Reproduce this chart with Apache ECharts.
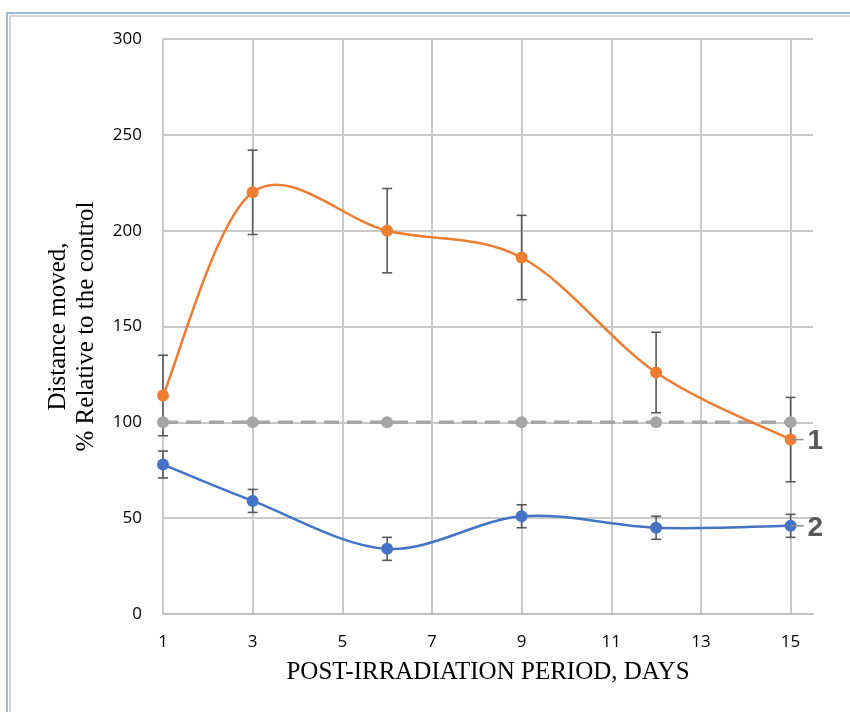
<!DOCTYPE html>
<html><head><meta charset="utf-8">
<script src="https://cdn.jsdelivr.net/npm/echarts@6/dist/echarts.min.js"></script>
<style>html,body{margin:0;padding:0;background:#fff}#c{width:850px;height:712px}</style>
</head><body><div id="c"></div>
<script>
const days = [1, 3, 6, 9, 12, 15];
const series1 = [114, 220, 200, 186, 126, 91];
const err1 = [21, 22, 22, 22, 21, 22];
const series2 = [78, 59, 34, 51, 45, 46];
const err2 = [7, 6, 6, 6, 6, 6];
const control = [100, 100, 100, 100, 100, 100];
const xTicks = [1, 3, 5, 7, 9, 11, 13, 15];
const yTicks = [0, 50, 100, 150, 200, 250, 300];
const endLabels = ['1', '2'];
const xTitle = 'POST-IRRADIATION PERIOD, DAYS';
const yTitle = 'Distance moved,\n% Relative to the control';

const pts = (vals) => days.map((d, i) => [d, vals[i]]);
const errData = (vals, errs) => days.map((d, i) => [d, vals[i] - errs[i], vals[i] + errs[i]]);

function errRender(params, api) {
  const x = api.value(0), lo = api.value(1), hi = api.value(2);
  const a = api.coord([x, hi]), b = api.coord([x, lo]);
  const w = 5, st = {stroke: '#595959', lineWidth: 1.6};
  return {type: 'group', children: [
    {type: 'line', shape: {x1: a[0], y1: a[1], x2: b[0], y2: b[1]}, style: st},
    {type: 'line', shape: {x1: a[0] - w, y1: a[1], x2: a[0] + w, y2: a[1]}, style: st},
    {type: 'line', shape: {x1: b[0] - w, y1: b[1], x2: b[0] + w, y2: b[1]}, style: st}
  ]};
}
// Excel-style smoothed segment (Catmull-Rom through the data points, in pixel space)
function curveRender(vals, color) {
  return function (params, api) {
    const i = params.dataIndex, n = days.length;
    if (i >= n - 1) return null;
    const c = (k) => api.coord([days[Math.max(0, Math.min(n - 1, k))], vals[Math.max(0, Math.min(n - 1, k))]]);
    const p0 = c(i - 1), p1 = c(i), p2 = c(i + 1), p3 = c(i + 2);
    return {type: 'bezierCurve', shape: {
      x1: p1[0], y1: p1[1], x2: p2[0], y2: p2[1],
      cpx1: p1[0] + (p2[0] - p0[0]) / 6, cpy1: p1[1] + (p2[1] - p0[1]) / 6,
      cpx2: p2[0] - (p3[0] - p1[0]) / 6, cpy2: p2[1] - (p3[1] - p1[1]) / 6
    }, style: {stroke: color, lineWidth: 2.5, fill: null}};
  };
}
function labRender(params, api) {
  const p = api.coord([api.value(0), api.value(1)]);
  const t = endLabels[params.dataIndex];
  return {type: 'group', children: [
    {type: 'line', shape: {x1: p[0], y1: p[1], x2: p[0] + 13, y2: p[1]}, style: {stroke: '#8c8c8c', lineWidth: 1.5}},
    {type: 'text', x: p[0] + 17, y: p[1] + 2, style: {text: t, fill: '#595959', font: 'bold 28px "Liberation Sans", sans-serif', verticalAlign: 'middle', align: 'left'}}
  ]};
}

const chart = echarts.init(document.getElementById('c'));
chart.setOption({
  animation: false,
  backgroundColor: '#fff',
  graphic: [
    {type: 'rect', shape: {x: 7, y: 13, width: 900, height: 800}, style: {fill: 'none', stroke: '#7fa3d4', lineWidth: 1.5}, z: 100},
    {type: 'rect', shape: {x: 10, y: 16, width: 900, height: 800}, style: {fill: 'none', stroke: '#d6d6d6', lineWidth: 2}, z: 100}
  ],
  grid: {left: 163, right: 37, top: 39, bottom: 98},
  xAxis: {
    type: 'value', min: 1, max: 15.5, interval: 2,
    axisLine: {show: true, lineStyle: {color: '#bfbfbf', width: 2}},
    axisTick: {show: false},
    axisLabel: {showMaxLabel: false, color: '#000', fontSize: 17, fontFamily: '"Open Sans", sans-serif', margin: 20,
      formatter: v => xTicks.includes(v) ? String(v) : ''},
    splitLine: {show: true, showMaxLine: false, lineStyle: {color: '#c8c8c8', width: 2}},
    name: xTitle, nameLocation: 'middle', nameGap: 46,
    nameTextStyle: {color: '#000', fontSize: 25, fontFamily: '"Liberation Serif", serif'}
  },
  yAxis: {
    type: 'value', min: 0, max: 300, interval: 50,
    axisLine: {show: false},
    axisTick: {show: false},
    axisLabel: {color: '#000', fontSize: 17, fontFamily: '"Open Sans", sans-serif', margin: 21,
      formatter: v => yTicks.includes(v) ? String(v) : ''},
    splitLine: {show: true, lineStyle: {color: '#c8c8c8', width: 2}},
    name: yTitle, nameLocation: 'middle', nameGap: 63,
    nameTextStyle: {color: '#000', fontSize: 25, lineHeight: 28, fontFamily: '"Liberation Serif", serif'}
  },
  series: [
    {type: 'custom', renderItem: errRender, data: errData(series1, err1), z: 1, silent: true},
    {type: 'custom', renderItem: errRender, data: errData(series2, err2), z: 1, silent: true},
    {type: 'line', data: pts(control), z: 2, symbol: 'circle', symbolSize: 12,
      lineStyle: {color: '#a5a5a5', width: 3.5, type: [15, 8]}, itemStyle: {color: '#a5a5a5'}},
    {type: 'custom', renderItem: curveRender(series1, '#ed7d31'), data: pts(series1), z: 3, silent: true},
    {type: 'custom', renderItem: curveRender(series2, '#4472c4'), data: pts(series2), z: 3, silent: true},
    {type: 'line', data: pts(series1), z: 4, symbol: 'circle', symbolSize: 12,
      lineStyle: {width: 0, opacity: 0}, itemStyle: {color: '#ed7d31'}},
    {type: 'line', data: pts(series2), z: 4, symbol: 'circle', symbolSize: 12,
      lineStyle: {width: 0, opacity: 0}, itemStyle: {color: '#4472c4'}},
    {type: 'custom', renderItem: labRender, z: 5, silent: true,
      data: [[days[days.length - 1], series1[series1.length - 1]], [days[days.length - 1], series2[series2.length - 1]]]}
  ]
});
</script></body></html>
